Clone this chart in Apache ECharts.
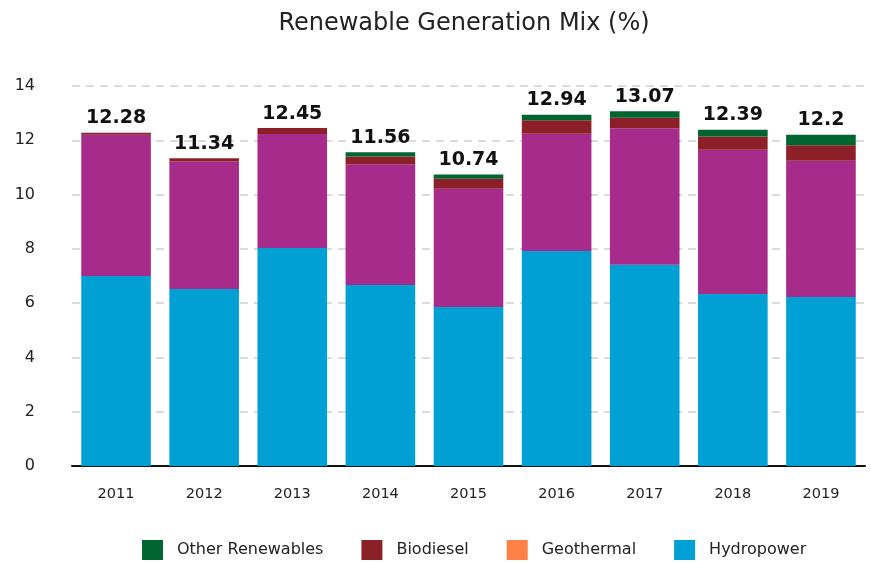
<!DOCTYPE html>
<html>
<head>
<meta charset="utf-8">
<script src="https://cdn.jsdelivr.net/npm/echarts@6/dist/echarts.min.js"></script>
<style>
html, body { margin: 0; padding: 0; background: #fff; }
#demo { width: 871px; height: 563px; }
</style>
</head>
<body>
<div id="demo"></div>
<script>
var years = ['2011', '2012', '2013', '2014', '2015', '2016', '2017', '2018', '2019'];
var hydro = [7.0, 6.52, 8.03, 6.67, 5.86, 7.92, 7.41, 6.34, 6.23];
var geo = [5.2, 4.7, 4.2, 4.45, 4.35, 4.32, 5.03, 5.31, 5.02];
var biodiesel = [0.08, 0.12, 0.22, 0.28, 0.37, 0.5, 0.39, 0.49, 0.57];
var other = [0, 0, 0, 0.16, 0.16, 0.2, 0.24, 0.25, 0.38];
var totals = ['12.28', '11.34', '12.45', '11.56', '10.74', '12.94', '13.07', '12.39', '12.2'];
var yTicks = [0, 2, 4, 6, 8, 10, 12, 14];

window.onload = function() {
    var font = 'DejaVu Sans';
    var option = {
        title: {
            text: 'Renewable Generation Mix (%)',
            top: 7,
            left: 459,
            textAlign: 'center',
            textStyle: { fontFamily: font, fontSize: 24, fontWeight: 'normal', color: '#222' }
        },
        legend: {
            top: 535,
            left: 137,
            itemWidth: 21,
            itemHeight: 20,
            itemGap: 38,
            icon: 'rect',
            textStyle: { fontFamily: font, fontSize: 16, color: '#222', padding: [0, 0, 0, 9] },
            data: [
                { name: 'Other Renewables' },
                { name: 'Biodiesel' },
                { name: 'Geothermal', itemStyle: { color: '#ff8148' } },
                { name: 'Hydropower' }
            ]
        },
        grid: { left: 72, right: 6, top: 86, bottom: 97 },
        xAxis: {
            type: 'category',
            data: years,
            axisTick: { show: false },
            axisLine: { lineStyle: { color: '#111', width: 2 } },
            axisLabel: { fontFamily: font, fontSize: 14.5, color: '#222', margin: 21 }
        },
        yAxis: {
            type: 'value',
            min: yTicks[0],
            max: yTicks[yTicks.length - 1],
            interval: 2,
            axisLabel: { fontFamily: font, fontSize: 16, color: '#222', margin: 37 },
            splitLine: { lineStyle: { type: [8, 6], width: 1.5, color: '#cfcfcf' } }
        },
        series: [
            {
                name: 'Hydropower', type: 'bar', stack: 'mix', barCategoryGap: '21%',
                itemStyle: { color: '#00a0d4' }, data: hydro
            },
            {
                name: 'Geothermal', type: 'bar', stack: 'mix',
                itemStyle: { color: '#a62b8b' }, data: geo
            },
            {
                name: 'Biodiesel', type: 'bar', stack: 'mix',
                itemStyle: { color: '#8b2029' }, data: biodiesel
            },
            {
                name: 'Other Renewables', type: 'bar', stack: 'mix',
                itemStyle: { color: '#00652e' }, data: other,
                label: {
                    show: true,
                    position: 'top',
                    distance: 5,
                    fontFamily: font,
                    fontSize: 19,
                    fontWeight: 'bold',
                    color: '#111',
                    formatter: function(p) { return totals[p.dataIndex]; }
                }
            }
        ]
    };
    var myCharts = echarts.init(document.getElementById('demo'));
    myCharts.setOption(option);
};
</script>
</body>
</html>
